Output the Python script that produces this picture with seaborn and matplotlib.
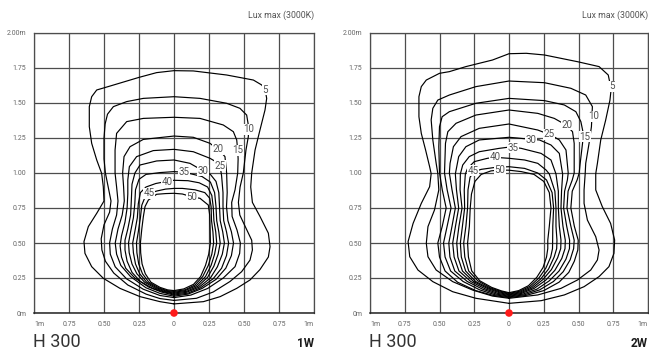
import matplotlib
matplotlib.use("Agg")
import matplotlib.pyplot as plt
import seaborn as sns

# lux levels of the iso-lines
levels = [5, 10, 15, 20, 25, 30, 35, 40, 45, 50]

# ---- 1W iso-lux lines, (x m, height m) ----
lux1w_05 = [(0, 0.065), (0.21, 0.081), (0.33, 0.117), (0.448, 0.176), (0.543, 0.236), (0.614, 0.31), (0.674, 0.40),
            (0.686, 0.474), (0.674, 0.57), (0.614, 0.69), (0.56, 0.79), (0.548, 0.9), (0.555, 1.0), (0.579, 1.164),
            (0.614, 1.307), (0.65, 1.45), (0.662, 1.533), (0.65, 1.6), (0.626, 1.629), (0.567, 1.664), (0.376, 1.70),
            (0.138, 1.729), (0, 1.731), (-0.124, 1.717), (-0.25, 1.683), (-0.457, 1.621), (-0.552, 1.593),
            (-0.588, 1.545), (-0.605, 1.474), (-0.605, 1.331), (-0.588, 1.212), (-0.552, 1.093), (-0.517, 0.998),
            (-0.505, 0.902), (-0.5, 0.8), (-0.552, 0.712), (-0.612, 0.617), (-0.643, 0.51), (-0.636, 0.426),
            (-0.588, 0.331), (-0.505, 0.248), (-0.386, 0.176), (-0.243, 0.117), (-0.1, 0.081), (0, 0.065)]
lux1w_10 = [(0, 0.09), (0.16, 0.105), (0.28, 0.15), (0.40, 0.225), (0.483, 0.295), (0.543, 0.378), (0.56, 0.45),
            (0.555, 0.52), (0.51, 0.615), (0.47, 0.7), (0.46, 0.79), (0.472, 0.9), (0.495, 1.0), (0.514, 1.164),
            (0.531, 1.26), (0.533, 1.33), (0.519, 1.414), (0.471, 1.462), (0.376, 1.498), (0.186, 1.533), (0, 1.545),
            (-0.219, 1.533), (-0.338, 1.51), (-0.433, 1.474), (-0.475, 1.42), (-0.492, 1.35), (-0.5, 1.25),
            (-0.5, 1.1), (-0.49, 1.0), (-0.47, 0.9), (-0.45, 0.8), (-0.46, 0.72), (-0.5, 0.63), (-0.52, 0.53),
            (-0.515, 0.45), (-0.49, 0.37), (-0.43, 0.285), (-0.33, 0.2), (-0.2, 0.135), (-0.1, 0.103), (0, 0.09)]
lux1w_15 = [(0, 0.11), (0.12, 0.128), (0.24, 0.175), (0.352, 0.25), (0.436, 0.331), (0.469, 0.426), (0.474, 0.5),
            (0.45, 0.593), (0.415, 0.69), (0.412, 0.79), (0.436, 0.88), (0.455, 1.0), (0.458, 1.1), (0.455, 1.164),
            (0.448, 1.236), (0.424, 1.295), (0.352, 1.343), (0.186, 1.39), (0, 1.398), (-0.219, 1.39),
            (-0.338, 1.367), (-0.41, 1.283), (-0.421, 1.164), (-0.421, 1.0), (-0.41, 0.9), (-0.4, 0.8), (-0.41, 0.7),
            (-0.44, 0.6), (-0.46, 0.5), (-0.455, 0.42), (-0.42, 0.33), (-0.34, 0.245), (-0.22, 0.17),
            (-0.1, 0.125), (0, 0.11)]
lux1w_20 = [(0, 0.12), (0.1, 0.135), (0.2, 0.175), (0.3, 0.24), (0.37, 0.32), (0.41, 0.41), (0.425, 0.5),
            (0.41, 0.58), (0.385, 0.66), (0.375, 0.76), (0.38, 0.86), (0.376, 1.0), (0.364, 1.117), (0.33, 1.155),
            (0.257, 1.212), (0.138, 1.255), (0, 1.264), (-0.219, 1.24), (-0.314, 1.188), (-0.357, 1.117),
            (-0.367, 1.0), (-0.36, 0.9), (-0.355, 0.8), (-0.37, 0.7), (-0.4, 0.6), (-0.42, 0.5), (-0.41, 0.42),
            (-0.38, 0.34), (-0.31, 0.26), (-0.2, 0.18), (-0.1, 0.14), (0, 0.12)]
lux1w_25 = [(0, 0.128), (0.1, 0.142), (0.19, 0.18), (0.28, 0.245), (0.34, 0.32), (0.375, 0.41), (0.39, 0.5),
            (0.375, 0.58), (0.355, 0.66), (0.35, 0.76), (0.35, 0.86), (0.34, 0.98), (0.329, 1.052), (0.3, 1.08),
            (0.257, 1.105), (0.138, 1.152), (0, 1.169), (-0.148, 1.16), (-0.267, 1.117), (-0.319, 1.045),
            (-0.33, 0.95), (-0.33, 0.85), (-0.335, 0.75), (-0.35, 0.65), (-0.375, 0.55), (-0.385, 0.48),
            (-0.375, 0.4), (-0.345, 0.32), (-0.28, 0.25), (-0.18, 0.185), (-0.09, 0.15), (0, 0.128)]
lux1w_30 = [(0, 0.135), (0.09, 0.148), (0.18, 0.185), (0.26, 0.25), (0.31, 0.33), (0.345, 0.42), (0.36, 0.5),
            (0.348, 0.58), (0.33, 0.66), (0.325, 0.76), (0.32, 0.86), (0.3, 0.94), (0.26, 0.99), (0.205, 1.017),
            (0.114, 1.069), (0, 1.093), (-0.124, 1.086), (-0.243, 1.057), (-0.279, 1.0), (-0.3, 0.92),
            (-0.305, 0.8), (-0.31, 0.7), (-0.33, 0.6), (-0.35, 0.52), (-0.35, 0.45), (-0.335, 0.37), (-0.3, 0.29),
            (-0.24, 0.225), (-0.15, 0.175), (-0.07, 0.15), (0, 0.135)]
lux1w_35 = [(0, 0.142), (0.09, 0.155), (0.17, 0.19), (0.24, 0.255), (0.285, 0.335), (0.315, 0.42), (0.33, 0.5),
            (0.32, 0.58), (0.305, 0.66), (0.3, 0.76), (0.29, 0.86), (0.26, 0.935), (0.2, 0.975), (0.126, 0.993),
            (0.074, 1.005), (0, 1.01), (-0.1, 1.003), (-0.2, 0.99), (-0.25, 0.955), (-0.275, 0.88), (-0.28, 0.78),
            (-0.29, 0.68), (-0.31, 0.58), (-0.325, 0.5), (-0.32, 0.43), (-0.3, 0.35), (-0.265, 0.28),
            (-0.21, 0.22), (-0.13, 0.175), (-0.06, 0.152), (0, 0.142)]
lux1w_40 = [(0, 0.148), (0.08, 0.16), (0.16, 0.195), (0.225, 0.26), (0.265, 0.34), (0.29, 0.42), (0.305, 0.5),
            (0.298, 0.58), (0.285, 0.66), (0.28, 0.76), (0.27, 0.84), (0.24, 0.9), (0.18, 0.93), (0.1, 0.945),
            (0, 0.948), (-0.052, 0.94), (-0.13, 0.925), (-0.2, 0.9), (-0.24, 0.86), (-0.255, 0.78), (-0.262, 0.68),
            (-0.28, 0.58), (-0.295, 0.5), (-0.29, 0.43), (-0.275, 0.35), (-0.245, 0.28), (-0.195, 0.22),
            (-0.12, 0.178), (-0.05, 0.155), (0, 0.148)]
lux1w_45 = [(0, 0.154), (0.08, 0.166), (0.15, 0.2), (0.205, 0.26), (0.245, 0.34), (0.27, 0.42), (0.283, 0.5),
            (0.278, 0.58), (0.268, 0.66), (0.265, 0.76), (0.255, 0.82), (0.22, 0.86), (0.15, 0.88), (0.06, 0.89),
            (0, 0.89), (-0.06, 0.885), (-0.12, 0.872), (-0.179, 0.855), (-0.21, 0.82), (-0.23, 0.77),
            (-0.24, 0.68), (-0.255, 0.58), (-0.268, 0.5), (-0.265, 0.43), (-0.252, 0.35), (-0.225, 0.28),
            (-0.18, 0.22), (-0.11, 0.18), (-0.05, 0.16), (0, 0.154)]
lux1w_50 = [(0, 0.16), (0.07, 0.172), (0.14, 0.205), (0.19, 0.26), (0.225, 0.34), (0.248, 0.42), (0.26, 0.5),
            (0.258, 0.6), (0.255, 0.7), (0.245, 0.771), (0.186, 0.819), (0.126, 0.83), (0.06, 0.85), (0, 0.855),
            (-0.06, 0.853), (-0.124, 0.848), (-0.183, 0.807), (-0.207, 0.76), (-0.219, 0.688), (-0.23, 0.6),
            (-0.24, 0.5), (-0.238, 0.43), (-0.228, 0.35), (-0.205, 0.28), (-0.165, 0.22), (-0.1, 0.183),
            (-0.045, 0.165), (0, 0.16)]

# ---- 2W iso-lux lines ----
lux2w_05 = [(0, 0.069), (0.231, 0.088), (0.398, 0.129), (0.54, 0.188), (0.648, 0.26), (0.719, 0.331), (0.755, 0.426),
            (0.76, 0.521), (0.731, 0.64), (0.671, 0.76), (0.624, 0.879), (0.624, 0.995), (0.636, 1.069),
            (0.66, 1.236), (0.695, 1.376), (0.726, 1.519), (0.735, 1.6), (0.714, 1.7), (0.648, 1.76),
            (0.493, 1.795), (0.255, 1.843), (0.124, 1.855), (0, 1.852), (-0.119, 1.807), (-0.31, 1.76),
            (-0.429, 1.724), (-0.5, 1.712), (-0.595, 1.664), (-0.631, 1.617), (-0.648, 1.545), (-0.648, 1.402),
            (-0.631, 1.283), (-0.6, 1.164), (-0.571, 1.045), (-0.56, 0.995), (-0.571, 0.902), (-0.631, 0.783),
            (-0.69, 0.64), (-0.726, 0.51), (-0.714, 0.402), (-0.655, 0.307), (-0.548, 0.224), (-0.405, 0.152),
            (-0.238, 0.105), (0, 0.069)]
lux2w_10 = [(0, 0.105), (0.207, 0.129), (0.374, 0.176), (0.493, 0.236), (0.588, 0.307), (0.636, 0.379), (0.648, 0.45),
            (0.624, 0.545), (0.564, 0.664), (0.54, 0.783), (0.54, 0.879), (0.548, 0.995), (0.552, 1.069),
            (0.576, 1.212), (0.593, 1.331), (0.6, 1.474), (0.552, 1.557), (0.445, 1.605), (0.255, 1.645),
            (0, 1.657), (-0.238, 1.617), (-0.429, 1.557), (-0.512, 1.521), (-0.548, 1.462), (-0.56, 1.379),
            (-0.548, 1.236), (-0.524, 1.069), (-0.512, 0.995), (-0.505, 0.879), (-0.536, 0.736), (-0.583, 0.617),
            (-0.595, 0.498), (-0.583, 0.402), (-0.524, 0.307), (-0.405, 0.224), (-0.262, 0.164), (-0.119, 0.121),
            (0, 0.105)]
lux2w_15 = [(0, 0.11), (0.12, 0.125), (0.25, 0.16), (0.36, 0.22), (0.43, 0.29), (0.47, 0.37), (0.495, 0.45),
            (0.498, 0.52), (0.47, 0.62), (0.445, 0.75), (0.455, 0.87), (0.49, 0.95), (0.505, 1.0), (0.512, 1.069),
            (0.529, 1.212), (0.535, 1.28), (0.517, 1.367), (0.481, 1.438), (0.398, 1.486), (0.255, 1.517),
            (0, 1.533), (-0.238, 1.498), (-0.429, 1.438), (-0.481, 1.402), (-0.5, 1.331), (-0.505, 1.188),
            (-0.5, 1.0), (-0.48, 0.88), (-0.452, 0.75), (-0.48, 0.62), (-0.512, 0.5), (-0.5, 0.4), (-0.46, 0.3),
            (-0.37, 0.22), (-0.24, 0.16), (-0.11, 0.125), (0, 0.11)]
lux2w_20 = [(0, 0.115), (0.11, 0.13), (0.22, 0.165), (0.32, 0.225), (0.39, 0.295), (0.44, 0.38), (0.465, 0.46),
            (0.469, 0.52), (0.445, 0.62), (0.417, 0.75), (0.425, 0.87), (0.455, 0.95), (0.469, 1.0), (0.469, 1.212),
            (0.457, 1.295), (0.41, 1.343), (0.326, 1.39), (0.207, 1.426), (0, 1.45), (-0.238, 1.414),
            (-0.381, 1.355), (-0.44, 1.295), (-0.457, 1.212), (-0.464, 1.0), (-0.445, 0.88), (-0.417, 0.75),
            (-0.445, 0.62), (-0.471, 0.5), (-0.46, 0.4), (-0.42, 0.3), (-0.33, 0.225), (-0.21, 0.165),
            (-0.1, 0.13), (0, 0.115)]
lux2w_25 = [(0, 0.12), (0.1, 0.135), (0.2, 0.17), (0.29, 0.23), (0.36, 0.3), (0.41, 0.385), (0.435, 0.46),
            (0.436, 0.52), (0.415, 0.62), (0.393, 0.75), (0.4, 0.87), (0.42, 0.95), (0.426, 1.0), (0.41, 1.164),
            (0.362, 1.236), (0.302, 1.271), (0.207, 1.307), (0, 1.35), (-0.214, 1.319), (-0.345, 1.26),
            (-0.4, 1.188), (-0.424, 1.069), (-0.429, 1.0), (-0.41, 0.88), (-0.386, 0.75), (-0.41, 0.62),
            (-0.433, 0.5), (-0.425, 0.4), (-0.39, 0.3), (-0.3, 0.225), (-0.19, 0.17), (-0.09, 0.135), (0, 0.12)]
lux2w_30 = [(0, 0.125), (0.09, 0.14), (0.18, 0.175), (0.265, 0.235), (0.33, 0.305), (0.38, 0.39), (0.403, 0.46),
            (0.405, 0.52), (0.388, 0.62), (0.374, 0.75), (0.378, 0.87), (0.386, 0.99), (0.362, 1.14), (0.302, 1.2),
            (0.219, 1.236), (0.16, 1.24), (0.06, 1.25), (0, 1.255), (-0.214, 1.236), (-0.31, 1.188),
            (-0.362, 1.117), (-0.386, 0.993), (-0.378, 0.88), (-0.362, 0.75), (-0.385, 0.62), (-0.405, 0.5),
            (-0.395, 0.4), (-0.36, 0.3), (-0.275, 0.225), (-0.17, 0.172), (-0.08, 0.14), (0, 0.125)]
lux2w_35 = [(0, 0.13), (0.085, 0.145), (0.17, 0.18), (0.245, 0.24), (0.305, 0.31), (0.35, 0.395), (0.372, 0.46),
            (0.374, 0.52), (0.362, 0.62), (0.355, 0.75), (0.355, 0.87), (0.338, 0.993), (0.302, 1.093),
            (0.231, 1.14), (0.088, 1.176), (0.029, 1.185), (0, 1.185), (-0.071, 1.176), (-0.214, 1.152),
            (-0.286, 1.117), (-0.333, 1.057), (-0.35, 0.993), (-0.352, 0.88), (-0.338, 0.75), (-0.36, 0.62),
            (-0.376, 0.5), (-0.368, 0.4), (-0.335, 0.3), (-0.255, 0.225), (-0.155, 0.175), (-0.07, 0.145),
            (0, 0.13)]
lux2w_40 = [(0, 0.135), (0.08, 0.15), (0.16, 0.185), (0.23, 0.245), (0.285, 0.315), (0.325, 0.4), (0.343, 0.46),
            (0.345, 0.52), (0.338, 0.62), (0.338, 0.75), (0.33, 0.87), (0.29, 0.993), (0.267, 1.021),
            (0.207, 1.069), (0.112, 1.093), (0, 1.105), (-0.102, 1.112), (-0.155, 1.105), (-0.25, 1.081),
            (-0.298, 1.033), (-0.314, 0.993), (-0.322, 0.88), (-0.319, 0.75), (-0.335, 0.62), (-0.35, 0.5),
            (-0.343, 0.4), (-0.312, 0.3), (-0.24, 0.225), (-0.145, 0.178), (-0.065, 0.15), (0, 0.135)]
lux2w_45 = [(0, 0.14), (0.075, 0.155), (0.15, 0.19), (0.215, 0.25), (0.265, 0.32), (0.3, 0.4), (0.313, 0.46),
            (0.314, 0.52), (0.315, 0.62), (0.321, 0.75), (0.31, 0.86), (0.27, 0.95), (0.207, 1.0), (0.112, 1.033),
            (0, 1.045), (-0.1, 1.04), (-0.2, 1.026), (-0.25, 1.01), (-0.28, 0.97), (-0.295, 0.88),
            (-0.298, 0.75), (-0.31, 0.62), (-0.326, 0.5), (-0.318, 0.4), (-0.29, 0.3), (-0.225, 0.23),
            (-0.135, 0.18), (-0.06, 0.155), (0, 0.14)]
lux2w_50 = [(0, 0.145), (0.07, 0.16), (0.14, 0.195), (0.2, 0.255), (0.245, 0.325), (0.27, 0.4), (0.279, 0.46),
            (0.279, 0.52), (0.29, 0.62), (0.302, 0.75), (0.29, 0.86), (0.25, 0.94), (0.18, 0.99), (0.088, 1.01),
            (0, 1.02), (-0.071, 1.021), (-0.13, 1.015), (-0.2, 0.99), (-0.245, 0.94), (-0.27, 0.85),
            (-0.279, 0.75), (-0.285, 0.62), (-0.298, 0.5), (-0.292, 0.4), (-0.268, 0.3), (-0.21, 0.23),
            (-0.125, 0.183), (-0.055, 0.158), (0, 0.145)]

# where each level number sits on its line
labels_1w = [(0.65, 1.593), (0.531, 1.312), (0.455, 1.164), (0.317, 1.169), (0.329, 1.052),
             (0.205, 1.017), (0.074, 1.005), (-0.052, 0.938), (-0.179, 0.855), (0.126, 0.826)]
labels_2w = [(0.738, 1.621), (0.612, 1.407), (0.545, 1.26), (0.414, 1.343), (0.29, 1.276),
             (0.16, 1.236), (0.029, 1.181), (-0.102, 1.117), (-0.257, 1.017), (-0.067, 1.021)]

x_ticks = [-1, -0.75, -0.5, -0.25, 0, 0.25, 0.5, 0.75, 1]
x_labels = ["1m", "0.75", "0.50", "0.25", "0", "0.25", "0.50", "0.75", "1m"]
y_ticks = [0, 0.25, 0.5, 0.75, 1, 1.25, 1.5, 1.75, 2]
y_labels = ["0m", "0.25", "0.50", "0.75", "1.00", "1.25", "1.50", "1.75", "2.00m"]

panels = [
    ("1W", [lux1w_05, lux1w_10, lux1w_15, lux1w_20, lux1w_25, lux1w_30, lux1w_35, lux1w_40, lux1w_45, lux1w_50], labels_1w),
    ("2W", [lux2w_05, lux2w_10, lux2w_15, lux2w_20, lux2w_25, lux2w_30, lux2w_35, lux2w_40, lux2w_45, lux2w_50], labels_2w),
]

sns.set_theme(style="white")
plt.rcParams["font.family"] = ["Roboto", "DejaVu Sans"]

fig = plt.figure(figsize=(6.49, 3.5), dpi=100)
boxes = [[34 / 649, 37 / 350, 280 / 649, 280 / 350], [370 / 649, 37 / 350, 278 / 649, 280 / 350]]
grid_col = "#4d4d4d"

for (power, lines, label_pos), box in zip(panels, boxes):
    ax = fig.add_axes(box)
    ax.set_xlim(-1, 1)
    ax.set_ylim(0, 2)
    ax.set_xticks(x_ticks)
    ax.set_yticks(y_ticks)
    ax.set_xticklabels(x_labels)
    ax.set_yticklabels(y_labels)
    ax.tick_params(length=0, labelsize=5, labelcolor="#666666", pad=5.5)
    ax.get_xticklabels()[0].set_ha("left")
    ax.get_xticklabels()[-1].set_ha("right")
    ax.grid(True, color=grid_col, lw=0.9)
    ax.set_axisbelow(True)
    for side in ["top", "left", "right"]:
        ax.spines[side].set_color(grid_col)
        ax.spines[side].set_linewidth(0.9)
    ax.spines["bottom"].set_color("#222222")
    ax.spines["bottom"].set_linewidth(1.1)

    for pts in lines:
        xs = [p[0] for p in pts]
        ys = [p[1] for p in pts]
        sns.lineplot(x=xs, y=ys, sort=False, estimator=None, color="black", lw=0.85, ax=ax, zorder=3)

    for lvl, (lx, ly) in zip(levels, label_pos):
        ax.text(lx, ly, str(lvl), fontsize=7, color="#505050", ha="center", va="center", zorder=4,
                bbox=dict(boxstyle="square,pad=0.05", fc="white", ec="none"))

    sns.scatterplot(x=[0], y=[0], color="#ff1a1a", s=30, edgecolor="none", ax=ax, zorder=5, clip_on=False)
    ax.set_xlabel("")
    ax.set_ylabel("")

    x0 = box[0]
    x1 = box[0] + box[2]
    fig.text(x1, 1 - 15 / 350, "Lux max (3000K)", ha="right", va="center", fontsize=6.3, color="#555555")
    fig.text(x0 - 1 / 649, 3 / 350, "H 300", ha="left", va="baseline", fontsize=13, color="#333333",
             fontweight="normal")
    fig.text(x1, 3 / 350, power, ha="right", va="baseline", fontsize=8.5, color="#1a1a1a", fontweight="bold")

fig.savefig("out.png", dpi=100)
